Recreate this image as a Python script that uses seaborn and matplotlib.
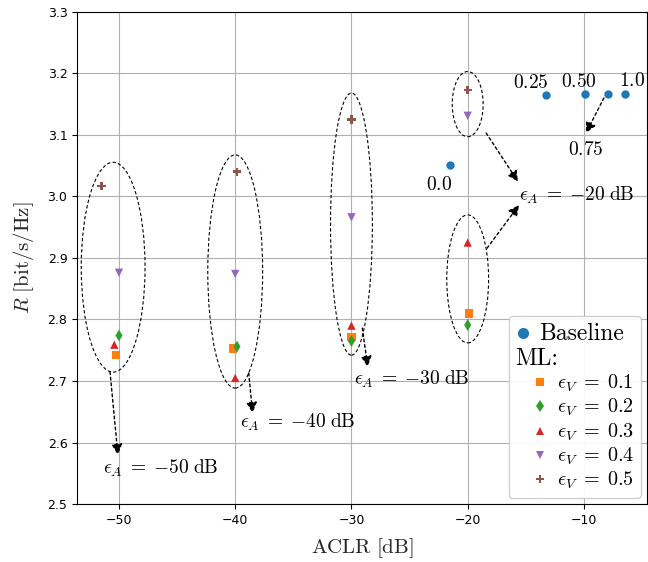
import numpy as np
import pandas as pd
import matplotlib
matplotlib.use("Agg")
import matplotlib.pyplot as plt
from matplotlib.patches import Ellipse
from matplotlib.lines import Line2D
from matplotlib.offsetbox import DrawingArea
import seaborn as sns

# baseline sweep, tagged by its trade-off weight
base_aclr = [-21.5, -13.25, -9.95, -7.96, -6.45]
base_rate = [3.051, 3.165, 3.166, 3.166, 3.166]
base_tags = ["0.0", "0.25", "0.50", "0.75", "1.0"]

# ML results: one row per eps_V, columns for eps_A = -50, -40, -30, -20 dB
eps_v = [0.1, 0.2, 0.3, 0.4, 0.5]
ml_aclr = [
    [-50.25, -40.2, -30.0, -19.9],
    [-50.0, -39.85, -30.0, -20.0],
    [-50.4, -40.0, -30.0, -20.0],
    [-50.0, -40.0, -30.0, -20.0],
    [-51.5, -39.85, -30.0, -20.0],
]
ml_rate = [
    [2.742, 2.753, 2.772, 2.810],
    [2.774, 2.756, 2.765, 2.791],
    [2.759, 2.705, 2.790, 2.925],
    [2.876, 2.874, 2.966, 3.131],
    [3.017, 3.040, 3.125, 3.173],
]
ml_markers = ["s", "d", "^", "v", "P"]
ml_colors = ["tab:orange", "tab:green", "tab:red", "tab:purple", "tab:brown"]

rows = []
for e, xs, ys in zip(eps_v, ml_aclr, ml_rate):
    for x, y in zip(xs, ys):
        rows.append({"eps": e, "aclr": x, "rate": y})
ml_df = pd.DataFrame(rows)

sns.set_style("ticks", {"axes.grid": True, "grid.color": "#b0b0b0",
                        "axes.edgecolor": "black", "text.color": "black",
                        "xtick.color": "black", "ytick.color": "black"})
plt.rcParams["mathtext.fontset"] = "cm"
plt.rcParams["font.family"] = ["DejaVu Sans"]

fig = plt.figure(figsize=(6.48, 5.62), dpi=100)
ax = fig.add_axes([0.119, 0.103, 0.879, 0.876])

sns.scatterplot(x=base_aclr, y=base_rate, color="tab:blue", s=36,
                linewidth=0, ax=ax, zorder=3)
sns.scatterplot(data=ml_df, x="aclr", y="rate", hue="eps", style="eps",
                palette=dict(zip(eps_v, ml_colors)),
                markers=dict(zip(eps_v, ml_markers)),
                s=36, linewidth=0, legend=False, ax=ax, zorder=3)

ax.set_xlim(-53.6, -4.6)
ax.set_ylim(2.5, 3.3)
ax.set_xticks([-50, -40, -30, -20, -10])
ax.set_yticks(np.arange(2.5, 3.31, 0.1))
ax.yaxis.set_major_formatter(matplotlib.ticker.FormatStrFormatter("%.1f"))
ax.tick_params(labelsize=9, length=3.5, width=0.8)
ax.grid(True, color="#b0b0b0", linewidth=0.8)
for s in ax.spines.values():
    s.set_linewidth(0.8)
ax.set_xlabel(r"$\mathrm{ACLR}\ [\mathrm{dB}]$", fontsize=15, labelpad=7)
ax.set_ylabel(r"$R\ [\mathrm{bit/s/Hz}]$", fontsize=15, labelpad=8)

# dashed groupings around each eps_A cluster
for cx, cy, w, h in [(-50.5, 2.885, 5.49, 0.341), (-40.0, 2.878, 4.72, 0.379),
                     (-30.0, 2.955, 3.6, 0.426), (-20.0, 3.150, 2.66, 0.106),
                     (-20.0, 2.866, 3.6, 0.208)]:
    ax.add_patch(Ellipse((cx, cy), w, h, fill=False, edgecolor="black",
                         linestyle=(0, (3, 2)), linewidth=0.8, zorder=2))

arr = dict(arrowstyle="-|>", color="black", linestyle=(0, (2, 2)),
           linewidth=1.0, mutation_scale=16, shrinkA=0, shrinkB=0)
txt = dict(fontsize=14, va="center", ha="left")
lab = r"$\epsilon_A\;=\;{-}%d\;\mathrm{dB}$"

ax.annotate("", xy=(-50.09, 2.580), xytext=(-50.77, 2.715), arrowprops=arr)
ax.text(-51.4, 2.558, lab % 50, **txt)
ax.annotate("", xy=(-38.5, 2.648), xytext=(-38.84, 2.713), arrowprops=arr)
ax.text(-39.6, 2.633, lab % 40, **txt)
ax.annotate("", xy=(-28.6, 2.723), xytext=(-29.06, 2.786), arrowprops=arr)
ax.text(-29.74, 2.702, lab % 30, **txt)
ax.annotate("", xy=(-15.67, 3.024), xytext=(-18.41, 3.103), arrowprops=arr)
ax.annotate("", xy=(-15.58, 2.986), xytext=(-18.33, 2.916), arrowprops=arr)
ax.text(-15.58, 3.002, lab % 20, **txt)

# baseline point tags
tag_pos = [(-22.45, 3.019), (-14.6, 3.185), (-10.43, 3.186), (-9.83, 3.077), (-5.88, 3.189)]
for t, (tx, ty) in zip(base_tags, tag_pos):
    ax.text(tx, ty, "$" + t + "$", fontsize=14, ha="center", va="center")
ax.annotate("", xy=(-9.83, 3.103), xytext=(-8.28, 3.160), arrowprops=arr)

# legend: Baseline, "ML:" header, then indented eps_V entries
handles = [Line2D([], [], linestyle="none", marker="o", color="tab:blue", markersize=7),
           Line2D([], [], linestyle="none")]
labels = ["Baseline", "ML:"]
for e, m, c in zip(eps_v, ml_markers, ml_colors):
    handles.append(Line2D([], [], linestyle="none", marker=m, color=c,
                          markersize=6, markeredgewidth=0))
    labels.append(r"$\epsilon_V\;=\;%.1f$" % e)
leg = ax.legend(handles, labels, loc="lower right", fontsize=14,
                handlelength=0.8, handletextpad=0.45, labelspacing=0.15,
                borderaxespad=0.3, borderpad=0.35, framealpha=0.9,
                edgecolor="#cccccc", fancybox=True)
texts = leg.get_texts()
for t in texts[:2]:
    t.set_fontfamily("cmr10")
    t.set_fontsize(17)
for t in texts[2:]:
    t.set_fontsize(14.5)
col = leg._legend_handle_box.get_children()[0]
entries = col.get_children()
entries[1].get_children().pop(0)
for row in entries[2:]:
    row.get_children().insert(0, DrawingArea(6, 0, 0, 0))

fig.savefig("out.png", dpi=100)
